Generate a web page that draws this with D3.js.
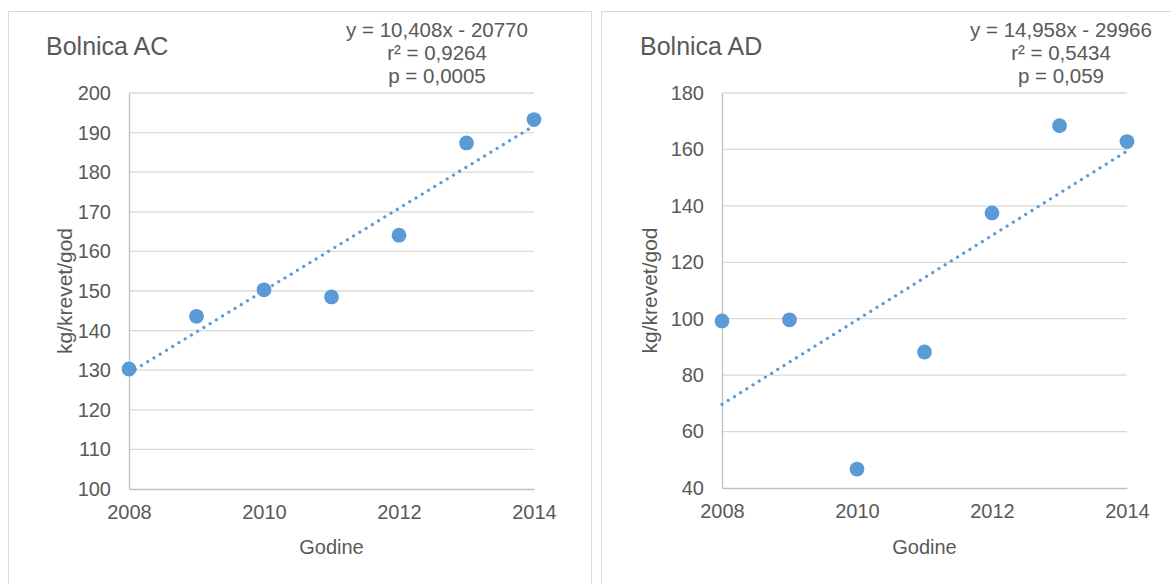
<!DOCTYPE html>
<html>
<head>
<meta charset="utf-8">
<script src="https://cdn.jsdelivr.net/npm/d3@7"></script>
<style>
  html, body { margin: 0; padding: 0; background: #fff; }
  svg { display: block; }
  text { font-family: "Liberation Sans", Arial, sans-serif; fill: #595959; }
</style>
</head>
<body>
<svg id="chart" width="1171" height="584"></svg>
<script>
const years = [2008, 2009, 2010, 2011, 2012, 2013, 2014];
const xTicks = [2008, 2010, 2012, 2014];

const titleAC = "Bolnica AC";
const valuesAC = [130.3, 143.6, 150.3, 148.5, 164.1, 187.4, 193.3];
const yTicksAC = [100, 110, 120, 130, 140, 150, 160, 170, 180, 190, 200];
const trendAC = [10.408, -20770];
const statsAC = ["y = 10,408x - 20770", "r² = 0,9264", "p = 0,0005"];

const titleAD = "Bolnica AD";
const valuesAD = [99.2, 99.6, 46.7, 88.2, 137.5, 168.4, 162.8];
const yTicksAD = [40, 60, 80, 100, 120, 140, 160, 180];
const trendAD = [14.958, -29966];
const statsAD = ["y = 14,958x - 29966", "r² = 0,5434", "p = 0,059"];

const yLabel = "kg/krevet/god";
const xLabel = "Godine";

const svg = d3.select("#chart");
const color = "#5b9bd5";

function panel(cfg) {
  const g = svg.append("g");
  // panel border
  g.append("rect")
    .attr("x", cfg.box[0] + 0.5).attr("y", cfg.box[1] + 0.5)
    .attr("width", cfg.box[2]).attr("height", cfg.box[3])
    .attr("fill", "none").attr("stroke", "#d9d9d9").attr("stroke-width", 1);

  const x = d3.scaleLinear().domain([2008, 2014]).range([cfg.plot[0], cfg.plot[1]]);
  const y = d3.scaleLinear().domain(cfg.yDomain).range([cfg.plot[3], cfg.plot[2]]);

  // gridlines
  g.append("g").selectAll("line").data(cfg.yTicks.slice(1)).join("line")
    .attr("x1", x(2008)).attr("x2", x(2014))
    .attr("y1", d => y(d)).attr("y2", d => y(d))
    .attr("stroke", "#d9d9d9").attr("stroke-width", 1.3);

  // y axis
  const ya = g.append("g").attr("transform", `translate(${x(2008)},0)`)
    .call(d3.axisLeft(y).tickValues(cfg.yTicks).tickSize(0).tickPadding(18).tickFormat(d3.format("d")));
  ya.select(".domain").attr("stroke", "#bfbfbf").attr("stroke-width", 1.3);
  ya.selectAll("text").attr("font-size", 20).attr("fill", "#595959")
    .style("font-family", '"Liberation Sans", Arial, sans-serif');

  // x axis
  const xa = g.append("g").attr("transform", `translate(0,${y(cfg.yDomain[0])})`)
    .call(d3.axisBottom(x).tickValues(xTicks).tickSize(0).tickPadding(16).tickFormat(d3.format("d")));
  xa.select(".domain").attr("stroke", "#bfbfbf").attr("stroke-width", 1.3);
  xa.selectAll("text").attr("font-size", 20).attr("fill", "#595959")
    .style("font-family", '"Liberation Sans", Arial, sans-serif');

  // trendline
  const t = cfg.trend;
  g.append("line")
    .attr("x1", x(2008)).attr("y1", y(t[0] * 2008 + t[1]))
    .attr("x2", x(2014)).attr("y2", y(t[0] * 2014 + t[1]))
    .attr("stroke", color).attr("stroke-width", 3.2)
    .attr("stroke-linecap", "round").attr("stroke-dasharray", "0.01 7.3");

  // points
  g.append("g").selectAll("circle").data(years.map((yr, i) => [yr, cfg.values[i]])).join("circle")
    .attr("cx", d => x(d[0])).attr("cy", d => y(d[1])).attr("r", 7.4)
    .attr("fill", color);

  // title
  g.append("text").attr("x", cfg.titleX).attr("y", 55).attr("font-size", 25).text(cfg.title);

  // stats
  g.append("g").selectAll("text").data(cfg.stats).join("text")
    .attr("x", cfg.statsX).attr("y", (d, i) => 37 + i * 23)
    .attr("text-anchor", "middle").attr("font-size", 20.5).text(d => d);

  // axis titles
  const cy = (cfg.plot[2] + cfg.plot[3]) / 2;
  g.append("text").attr("transform", `translate(${cfg.yLabelX},${cy}) rotate(-90)`)
    .attr("text-anchor", "middle").attr("font-size", 21).text(yLabel);
  g.append("text").attr("x", (cfg.plot[0] + cfg.plot[1]) / 2).attr("y", 554)
    .attr("text-anchor", "middle").attr("font-size", 20).text(xLabel);
}

panel({
  box: [8, 11, 583, 600],
  plot: [129, 534, 93, 489],
  yDomain: [100, 200], yTicks: yTicksAC,
  values: valuesAC, trend: trendAC, stats: statsAC,
  title: titleAC, titleX: 46, statsX: 437, yLabelX: 72
});
panel({
  box: [601, 11, 600, 600],
  plot: [722, 1127, 93, 488],
  yDomain: [40, 180], yTicks: yTicksAD,
  values: valuesAD, trend: trendAD, stats: statsAD,
  title: titleAD, titleX: 640, statsX: 1061, yLabelX: 657
});
</script>
</body>
</html>
